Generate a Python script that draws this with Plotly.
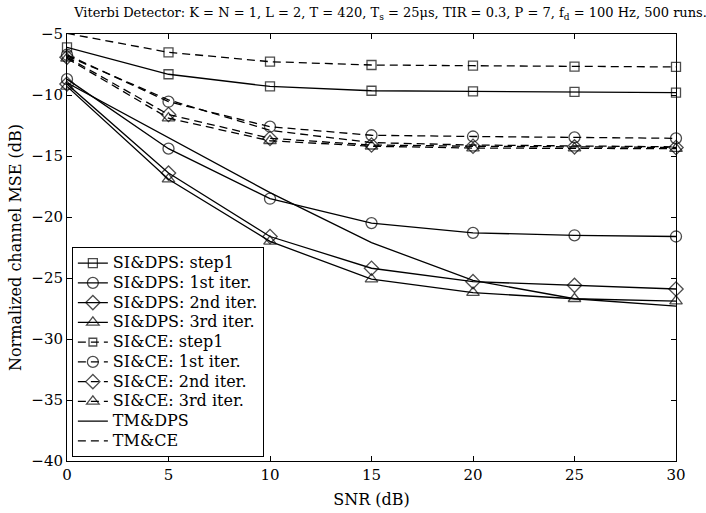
import plotly.graph_objects as go

snr = [0, 5, 10, 15, 20, 25, 30]

si_dps_step1 = [-6.1, -8.3, -9.3, -9.65, -9.7, -9.75, -9.8]
si_dps_1st = [-8.7, -14.4, -18.5, -20.5, -21.3, -21.5, -21.6]
si_dps_2nd = [-9.1, -16.4, -21.6, -24.2, -25.3, -25.6, -25.9]
si_dps_3rd = [-9.3, -16.9, -22.0, -25.1, -26.2, -26.7, -26.9]
si_ce_step1 = [-4.95, -6.5, -7.27, -7.54, -7.6, -7.68, -7.7]
si_ce_1st = [-6.7, -10.55, -12.6, -13.3, -13.4, -13.47, -13.55]
si_ce_2nd = [-6.9, -11.6, -13.55, -14.1, -14.2, -14.25, -14.3]
si_ce_3rd = [-7.0, -11.9, -13.75, -14.2, -14.35, -14.35, -14.4]
tm_dps = [-9.0, -13.5, -18.0, -22.1, -25.2, -26.7, -27.3]
tm_ce = [-6.8, -10.4, -12.9, -13.9, -14.1, -14.2, -14.25]

series = [
    ("SI&DPS: step1", si_dps_step1, "solid", "square-open"),
    ("SI&DPS: 1st iter.", si_dps_1st, "solid", "circle-open"),
    ("SI&DPS: 2nd iter.", si_dps_2nd, "solid", "diamond-open"),
    ("SI&DPS: 3rd iter.", si_dps_3rd, "solid", "triangle-up-open"),
    ("SI&CE: step1", si_ce_step1, "8px,5px", "square-open"),
    ("SI&CE: 1st iter.", si_ce_1st, "8px,5px", "circle-open"),
    ("SI&CE: 2nd iter.", si_ce_2nd, "8px,5px", "diamond-open"),
    ("SI&CE: 3rd iter.", si_ce_3rd, "8px,5px", "triangle-up-open"),
    ("TM&DPS", tm_dps, "solid", None),
    ("TM&CE", tm_ce, "8px,5px", None),
]

FONT = "DejaVu Serif"
LEGEND_TEXT_PX = 16

fig = go.Figure()
for name, vals, dash, sym in series:
    label = "<span style='font-size:%dpx'>%s</span>" % (LEGEND_TEXT_PX, name)
    if sym is None:
        fig.add_trace(go.Scatter(x=snr, y=vals, name=label, mode="lines",
                                 line=dict(color="black", width=1.3, dash=dash)))
    else:
        size = 9 if sym == "square-open" else 11
        sizes = [0 if v > -5 else size for v in vals]
        fig.add_trace(go.Scatter(x=snr, y=vals, name=label, mode="lines+markers",
                                 line=dict(color="black", width=1.3, dash=dash),
                                 marker=dict(symbol=sym, size=sizes, color="black",
                                             line=dict(color="black", width=1.3)),
                                 cliponaxis=False))

fig.update_layout(
    width=706, height=513,
    margin=dict(l=67, r=30, t=34, b=52),
    paper_bgcolor="white", plot_bgcolor="white",
    font=dict(family=FONT, color="black", size=15),
    title=dict(text="Viterbi Detector: K = N = 1, L = 2, T = 420, T<sub>s</sub> = 25μs, TIR = 0.3, P = 7, f<sub>d</sub> = 100 Hz, 500 runs.",
               x=0.105, xanchor="left", y=0.985, yanchor="top",
               font=dict(family=FONT, size=13, color="black")),
    showlegend=True,
    legend=dict(x=0.008, y=0.009, xanchor="left", yanchor="bottom",
                bgcolor="white", bordercolor="black", borderwidth=1,
                font=dict(family=FONT, size=12.9, color="black"),
                tracegroupgap=0, itemwidth=30),
)
fig.update_xaxes(range=[0, 30], tickvals=[0, 5, 10, 15, 20, 25, 30],
                 showgrid=False, zeroline=False, showline=True, linecolor="black", linewidth=1,
                 mirror="ticks", ticks="inside", ticklen=5, tickcolor="black",
                 tickfont=dict(family=FONT, size=15), automargin=False,
                 title=dict(text="SNR (dB)", font=dict(family=FONT, size=16), standoff=10))
fig.update_yaxes(range=[-40, -5], tickvals=[-40, -35, -30, -25, -20, -15, -10, -5],
                 showgrid=False, zeroline=False, showline=True, linecolor="black", linewidth=1,
                 mirror="ticks", ticks="inside", ticklen=5, tickcolor="black",
                 tickfont=dict(family=FONT, size=15), automargin=False,
                 title=dict(text="Normalized channel MSE (dB)", font=dict(family=FONT, size=16), standoff=5))

fig.write_html("out.html")
